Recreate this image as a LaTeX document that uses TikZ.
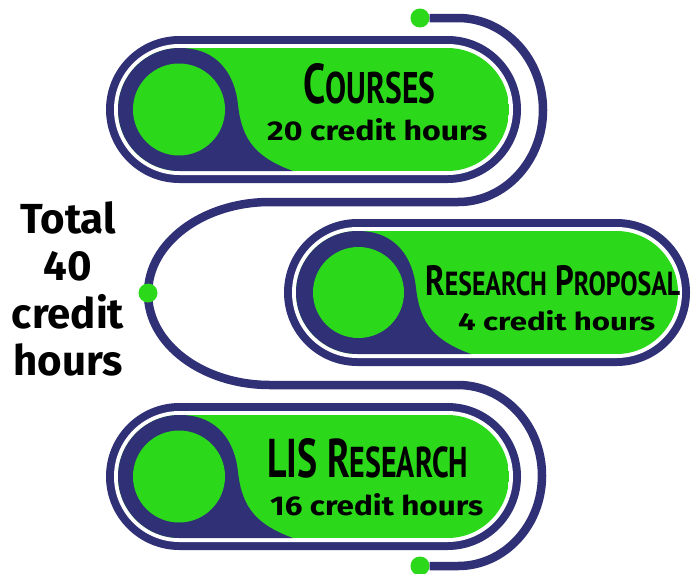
\documentclass[tikz,border=0pt]{standalone}
\usepackage{graphicx}
\usepackage{fontspec}
\setmainfont{Fira Sans}
\newfontfamily\titlefont{PT Sans}
\usetikzlibrary{positioning}
\definecolor{navy}{HTML}{2F3076}
\definecolor{lime}{HTML}{2BD91A}
\newcommand{\capsmall}[2]{{\fontsize{40}{40}\selectfont#1}{\fontsize{31.6}{31.6}\selectfont#2}}

\begin{document}
\begin{tikzpicture}[x=1pt,y=-1pt,
	track/.style={navy,line width=8.5pt},
	dot/.style={circle,fill=lime,inner sep=0pt,minimum size=19pt},
	title/.style={anchor=base west,inner sep=0pt},
	hours/.style={anchor=base west,inner sep=0pt,font=\bfseries}]
		\useasboundingbox (0,0) rectangle (692,573);

		%top pill
		\fill[navy,rounded corners=73.5] (106,36) rectangle (521,183);
		\fill[white,rounded corners=65.5] (114,44) rectangle (513,175);
		\begin{scope}
			\clip[rounded corners=61.5] (118,48) rectangle (509,171);
			\fill[lime] (118,48) rectangle (509,171);
			\fill[navy] (100,40) -- (180,40) -- (180,48) .. controls (218,48) and (235,75) .. (238,105) .. controls (242,140) and (255,160) .. (305,175) -- (100,175) -- cycle;
		\end{scope}
		\fill[lime] (179,109.5) circle (46);

		%middle pill
		\begin{scope}[shift={(178,183)}]
			\fill[navy,rounded corners=73.5] (106,36) rectangle (512,183);
			\fill[white,rounded corners=65.5] (114,44) rectangle (504,175);
			\begin{scope}
				\clip[rounded corners=61.5] (118,48) rectangle (500,171);
				\fill[lime] (118,48) rectangle (500,171);
				\fill[navy] (100,40) -- (180,40) -- (180,48) .. controls (218,48) and (235,75) .. (238,105) .. controls (242,140) and (255,160) .. (305,175) -- (100,175) -- cycle;
			\end{scope}
			\fill[lime] (180.5,109.5) circle (45.5);
		\end{scope}

		%bottom pill
		\begin{scope}[shift={(0,367)}]
			\fill[navy,rounded corners=73.5] (106,36) rectangle (521,183);
			\fill[white,rounded corners=65.5] (114,44) rectangle (513,175);
			\begin{scope}
				\clip[rounded corners=61.5] (118,48) rectangle (509,171);
				\fill[lime] (118,48) rectangle (509,171);
				\fill[navy] (100,40) -- (180,40) -- (180,48) .. controls (218,48) and (235,75) .. (238,105) .. controls (242,140) and (255,160) .. (305,175) -- (100,175) -- cycle;
			\end{scope}
			\fill[lime] (179,109.5) circle (46);
		\end{scope}

		%track
		\node[dot] (start) at (420,18) {};
		\node[dot] (finish) at (420,566) {};
		\draw[track] (start) -- (458,18) arc[start angle=-90,end angle=90,x radius=85,y radius=92]
			-- (270,202) arc[start angle=-90,end angle=-270,x radius=122,y radius=91.5]
			-- (458,385) arc[start angle=-90,end angle=90,x radius=84,y radius=90.5] -- (finish);
		\node[dot] (turn) at (148,293) {};

		%labels
		\node[title] (courses) at (303,103) {\resizebox{132pt}{40pt}{\titlefont\bfseries\capsmall{C}{OURSES}}};
		\node[hours] (courseshours) at (267,140) {\resizebox{220pt}{22pt}{20 credit hours}};
		\node[title] (proposal) at (425,295) {\resizebox{255pt}{30pt}{\titlefont\bfseries\fontsize{40}{40}\selectfont\capsmall{R}{ESEARCH} \capsmall{P}{ROPOSAL}}};
		\node[hours] (proposalhours) at (458,330) {\resizebox{197pt}{20pt}{4 credit hours}};
		\node[title] (research) at (267,477) {\resizebox{201pt}{39pt}{\titlefont\bfseries\fontsize{40}{40}\selectfont LIS \capsmall{R}{ESEARCH}}};
		\node[hours] (researchhours) at (270,515) {\resizebox{213pt}{22pt}{16 credit hours}};

		%total
		\node[align=center,font=\bfseries\fontsize{42}{47.5}\selectfont] (total) at (68,289) {Total\\40\\credit\\hours};
	\end{tikzpicture}
\end{document}
